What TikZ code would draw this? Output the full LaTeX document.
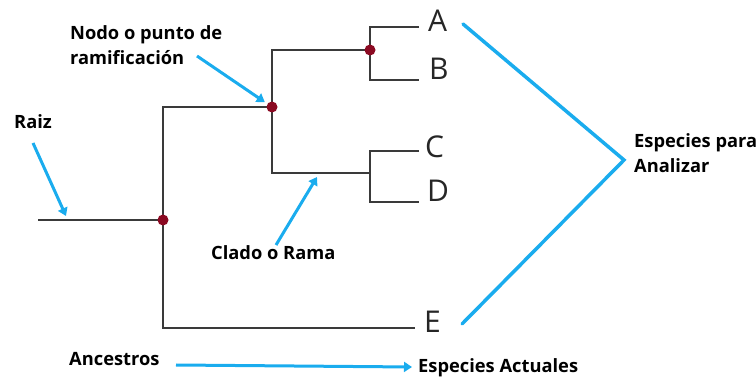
\documentclass[tikz,border=0pt]{standalone}
\usepackage{fontspec}
\setmainfont{Open Sans}
\usetikzlibrary{arrows.meta}
\definecolor{treeline}{HTML}{3A3A3A}
\definecolor{nodedot}{HTML}{8B0A22}
\definecolor{pointerblue}{HTML}{1AACEE}
\begin{document}
\begin{tikzpicture}[x=1pt,y=-1pt,
  branch/.style={draw=treeline,line width=2pt},
  dot/.style={circle,fill=nodedot,inner sep=0pt,minimum size=11pt},
  taxon/.style={font=\fontsize{30}{36}\selectfont,inner sep=0pt,anchor=base west,text=black!85},
  note/.style={font=\fontsize{18.3}{25}\selectfont\bfseries,inner sep=0pt,anchor=base west},
  pointer/.style={draw=pointerblue,line width=3pt,-{Triangle[length=8pt,width=10pt]}},
  bracket/.style={draw=pointerblue,line width=3.5pt,line cap=round,line join=miter}]
\useasboundingbox (0,0) rectangle (756,379);

% junctions and leaf tips of the tree
\coordinate (root) at (38,220);
\coordinate (j0) at (163,220);
\coordinate (j1) at (272,107);
\coordinate (j2) at (370,50);
\coordinate (j3) at (370,173);
\coordinate (la) at (419,27);
\coordinate (lb) at (419,80);
\coordinate (lc) at (419,151);
\coordinate (ld) at (419,202);
\coordinate (le) at (415,328);

% branches
\draw[branch] (root) -- (j0);
\draw[branch] (j1) -- (j0 |- j1) -- (j0 |- le) -- (le);
\draw[branch] (j2) -- (j1 |- j2) -- (j1 |- j3) -- (j3);
\draw[branch] (la) -- (j2 |- la) -- (j2 |- lb) -- (lb);
\draw[branch] (lc) -- (j3 |- lc) -- (j3 |- ld) -- (ld);

% branching points
\node[dot] (d0) at (j0) {};
\node[dot] (d1) at (j1) {};
\node[dot] (d2) at (j2) {};

% species
\node[taxon] (A) at (428,32) {A};
\node[taxon] (B) at (429,80) {B};
\node[taxon] (C) at (425,158) {C};
\node[taxon] (D) at (427,202) {D};
\node[taxon] (E) at (424,333) {E};

% annotations
\node[note] (raiz) at (14,129) {Raiz};
\node[note] (nodo1) at (70,40) {Nodo o punto de};
\node[note] (nodo2) at (70,65) {ramificación};
\node[note] (clado) at (211,260) {Clado o Rama};
\node[note] (esp1) at (634,148) {Especies para};
\node[note] (esp2) at (634,173) {Analizar};
\node[note] (anc) at (69,366) {Ancestros};
\node[note] (act) at (418,373) {Especies Actuales};

% pointers
\coordinate (praiz) at (33,143);
\coordinate (traiz) at (66,216);
\coordinate (pnodo) at (197,56);
\coordinate (pclado) at (276,245);
\coordinate (tclado) at (317,177);
\coordinate (panc) at (176,365);
\coordinate (tanc) at (412,367);
\coordinate (bt) at (463,24);
\coordinate (bv) at (624,160);
\coordinate (bb) at (462,324);

\draw[pointer] (praiz) -- (traiz);
\draw[pointer,shorten >=3pt] (pnodo) -- (d1);
\draw[pointer] (pclado) -- (tclado);
\draw[pointer] (panc) -- (tanc);
\draw[bracket] (bt) -- (bv) -- (bb);
\end{tikzpicture}
\end{document}
